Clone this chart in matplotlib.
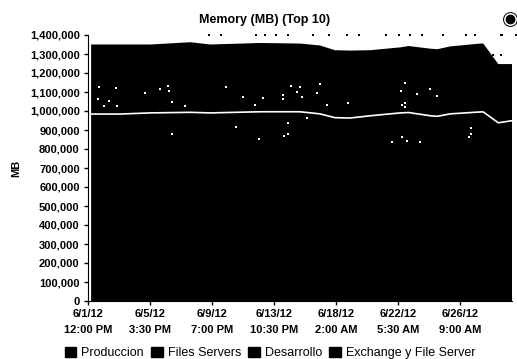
import matplotlib
matplotlib.use('Agg')
import matplotlib.pyplot as plt
from matplotlib.lines import Line2D
from matplotlib.patches import Patch

plt.rcParams['font.family'] = ['Liberation Sans', 'DejaVu Sans']

# hours since 6/1/12 12:00 PM
hours = [5, 51, 100, 164, 196, 276, 340, 372, 396, 420, 453, 501, 514, 549, 560, 581, 629, 634, 658, 680]
produccion = [984000, 984000, 990000, 993000, 990000, 996000, 996000, 985000, 965000, 963000,
              975000, 990000, 992000, 975000, 972000, 985000, 995000, 995000, 938000, 949000]
total = [1350000, 1350000, 1350000, 1362000, 1350000, 1358000, 1355000, 1345000, 1320000, 1318000,
         1320000, 1335000, 1342000, 1328000, 1325000, 1340000, 1355000, 1355000, 1247000, 1247000]
resto = [t - p for t, p in zip(total, produccion)]

legend_names = ['Produccion', 'Files Servers', 'Desarrollo', 'Exchange y File Server']
y_ticks = list(range(0, 1400001, 100000))
x_ticks = [0, 99.5, 199, 298.5, 398, 497.5, 597]
x_labels = ['6/1/12\n12:00 PM', '6/5/12\n3:30 PM', '6/9/12\n7:00 PM', '6/13/12\n10:30 PM',
            '6/18/12\n2:00 AM', '6/22/12\n5:30 AM', '6/26/12\n9:00 AM']

# white specks left in the black area
speck_x = [18, 45, 91, 116, 128, 130, 16, 34, 26, 47, 135, 156, 221, 249, 268, 238, 135, 274,
           326, 340, 335, 343, 372, 368, 313, 313, 281, 384, 417, 509, 502, 528, 549, 560, 509, 504,
           509, 321, 321, 315, 351, 504, 488, 512, 533, 615, 615, 611]
speck_y = [1126000, 1121000, 1095000, 1116000, 1132000, 1105000, 1063000, 1053000, 1026000, 1026000,
           1047000, 1026000, 1126000, 1074000, 1032000, 916000, 879000, 853000,
           1132000, 1126000, 1100000, 1074000, 1142000, 1095000, 1084000, 1063000, 1068000, 1032000,
           1042000, 1147000, 1105000, 1089000, 1116000, 1079000, 1042000, 1032000,
           1021000, 937000, 879000, 868000, 963000, 863000, 837000, 842000, 837000, 911000, 879000, 863000]

# dots along the top gridline and the two below it near the right end
dot_x = [194, 213, 270, 284, 302, 320, 361, 387, 416, 435, 478, 498, 517, 535, 570, 607, 621, 664, 686, 663, 650, 663]
dot_y = [1400000] * 20 + [1295000, 1295000]

fig = plt.figure(figsize=(5.17, 3.59), dpi=100)
ax = fig.add_axes([88 / 517, 58 / 359, 424 / 517, 266 / 359])

ax.stackplot(hours, produccion, resto, colors=['black', 'black'], linewidth=0)
ax.plot(hours, produccion, color='white', linewidth=1.2)
ax.scatter(speck_x, speck_y, s=1.5, color='white', marker='s', linewidths=0, zorder=3)
ax.scatter(dot_x, dot_y, s=1.5, color='black', marker='s', linewidths=0, clip_on=False)

ax.set_xlim(0, 680)
ax.set_ylim(0, 1400000)
ax.set_yticks(y_ticks)
ax.set_yticklabels([f'{v:,}' for v in y_ticks], fontsize=8, fontweight='bold')
ax.set_xticks(x_ticks)
ax.set_xticklabels(x_labels, fontsize=8, fontweight='bold', linespacing=1.75)
ax.tick_params(axis='both', length=3, width=1, pad=3)
ax.spines['top'].set_visible(False)
ax.spines['right'].set_visible(False)
ax.set_ylabel('MB', fontsize=8, fontweight='bold', labelpad=6)

fig.text(264.5 / 517, 1 - 20 / 359, 'Memory (MB) (Top 10)', fontsize=9, fontweight='bold',
         ha='center', va='center')

# little badge in the top right corner
fig.add_artist(Line2D([510 / 517], [1 - 19 / 359], transform=fig.transFigure, marker='o', markersize=6,
                      markerfacecolor='black', markeredgecolor='black', linestyle='none'))
fig.add_artist(Line2D([510 / 517], [1 - 19 / 359], transform=fig.transFigure, marker='o', markersize=10,
                      markerfacecolor='none', markeredgecolor='black', markeredgewidth=0.7,
                      linestyle='none'))

handles = [Patch(facecolor='black', edgecolor='black') for _ in legend_names]
fig.legend(handles, legend_names, loc='center', bbox_to_anchor=(270 / 517, 1 - 353 / 359), ncol=4,
           frameon=False, fontsize=9, handlelength=0.9, handleheight=0.9, handletextpad=0.4,
           columnspacing=0.6, borderpad=0, borderaxespad=0)

fig.savefig('out.png', dpi=100)
